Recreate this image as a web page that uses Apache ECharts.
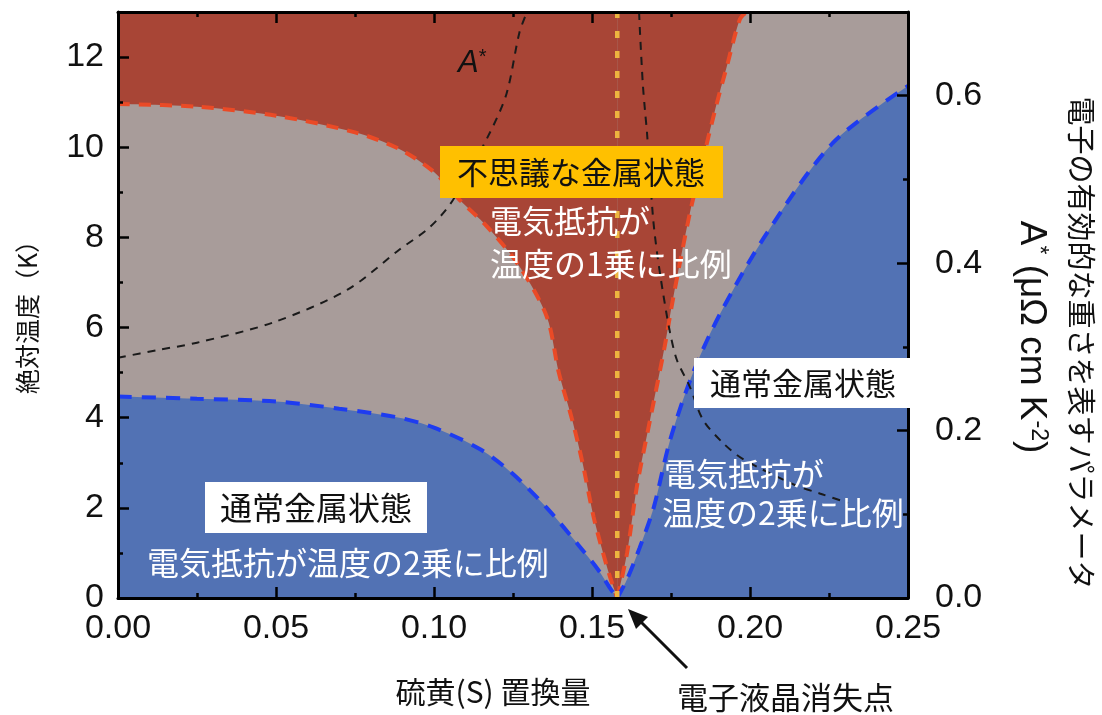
<!DOCTYPE html>
<html lang="ja">
<head>
<meta charset="UTF-8">
<title>電子液晶消失点 相図</title>
<script src="https://cdn.jsdelivr.net/npm/echarts@6/dist/echarts.min.js"></script>
<style>
    body{
        margin: 0;
        padding: 0;
        background: #fff;
    }
</style>
</head>
<body>
<div id="main" style="width: 1102px;height: 715px;"></div>
<script>
    // 相境界 [S置換量, 温度(K)]
    var redLeft = [[0, 10.96], [0.025, 10.9], [0.05, 10.7], [0.075, 10.33], [0.089, 9.96], [0.1, 9.45],
        [0.108, 8.84], [0.1168, 8.24], [0.127, 7.36], [0.1357, 6.24], [0.1395, 5.0], [0.1437, 3.96],
        [0.147, 3.0], [0.1505, 1.8], [0.1535, 1.0], [0.1557, 0.47], [0.158, 0]];
    var redRight = [[0.158, 0], [0.1611, 1.0], [0.1642, 2.47], [0.1684, 3.96], [0.173, 5.58],
        [0.1756, 6.62], [0.181, 8.55], [0.185, 9.7], [0.189, 10.84], [0.1927, 11.8], [0.1968, 12.84], [0.199, 13]];
    var blueLeft = [[0, 4.47], [0.025, 4.42], [0.05, 4.36], [0.07, 4.2], [0.089, 4.0], [0.1, 3.78],
        [0.1146, 3.3], [0.125, 2.75], [0.1357, 2.0], [0.146, 1.15], [0.152, 0.62], [0.1557, 0.22], [0.158, 0]];
    var blueRight = [[0.158, 0], [0.161, 0.4], [0.165, 1.1], [0.1695, 2.0], [0.1747, 3.5], [0.182, 5.0],
        [0.1905, 6.3], [0.2054, 8.1], [0.2263, 10.1], [0.25, 11.36]];
    // A* [S置換量, A*(μΩ cm K^-2)]
    var aStarLeft = [[0, 0.287], [0.0123, 0.296], [0.025, 0.305], [0.049, 0.329], [0.0725, 0.368],
        [0.089, 0.416], [0.0987, 0.443], [0.106, 0.4755], [0.1177, 0.556], [0.123, 0.603],
        [0.127, 0.675], [0.1294, 0.70]];
    var aStarRight = [[0.1649, 0.70], [0.1652, 0.675], [0.1661, 0.613], [0.1668, 0.581], [0.1674, 0.556],
        [0.1693, 0.455], [0.1706, 0.412], [0.1725, 0.364], [0.1747, 0.317], [0.1769, 0.284],
        [0.181, 0.252], [0.1851, 0.213], [0.1915, 0.185], [0.1978, 0.166], [0.2142, 0.135],
        [0.2228, 0.124], [0.231, 0.1135]];
    var qcp = 0.158;   // 電子液晶消失点
    var tMax = 13;

    var jp = '"Noto Sans CJK JP", sans-serif';
    var num = '"Liberation Sans", Arial, sans-serif';

    var chart = echarts.init(document.getElementById('main'));

    var tickCommon = {
        z: 10,
        axisLine: {show: true, onZero: false, lineStyle: {color: '#000', width: 3}},
        axisTick: {show: true, inside: true, length: 11, lineStyle: {color: '#000', width: 2.5}},
        minorTick: {show: true, splitNumber: 2, length: 5, lineStyle: {color: '#000', width: 2.5}},
        splitLine: {show: false},
        minorSplitLine: {show: false}
    };

    function axis(extra) {
        return Object.assign({}, JSON.parse(JSON.stringify(tickCommon)), extra);
    }

    var option = {
        animation: false,
        grid: {
            left: 118, right: 194, top: 12, bottom: 117,
            show: true, backgroundColor: '#A89C9A', borderWidth: 0
        },
        xAxis: [
            axis({
                type: 'value', min: 0, max: 0.25, interval: 0.05, position: 'bottom',
                axisLabel: {
                    fontSize: 34, fontFamily: num, color: '#111', margin: 14,
                    formatter: function (v) { return v.toFixed(2); }
                }
            }),
            axis({
                type: 'value', min: 0, max: 0.25, interval: 0.05, position: 'top',
                axisLabel: {show: false}
            })
        ],
        yAxis: [
            axis({
                type: 'value', min: 0, max: tMax, interval: 2, position: 'left',
                axisLabel: {
                    fontSize: 34, fontFamily: num, color: '#111', margin: 14,
                    formatter: function (v) { return v % 2 === 0 ? v : ''; }
                }
            }),
            axis({
                type: 'value', min: 0, max: 0.7, interval: 0.2, position: 'right',
                axisLabel: {
                    fontSize: 34, fontFamily: num, color: '#111', margin: 27,
                    formatter: function (v) { return v > 0.65 ? '' : v.toFixed(1); }
                }
            })
        ],
        series: [
            {
                name: '不思議な金属 左', type: 'line', data: redLeft, smooth: 0.3,
                symbol: 'none', lineStyle: {color: '#EA4A26', width: 4, type: [12, 9]},
                areaStyle: {color: '#A84536', opacity: 1, origin: 'end'}
            },
            {
                name: '不思議な金属 右', type: 'line', data: redRight, smooth: 0.3,
                symbol: 'none', lineStyle: {color: '#EA4A26', width: 4, type: [12, 9]},
                areaStyle: {color: '#A84536', opacity: 1, origin: 'end'}
            },
            {
                name: '通常金属 左', type: 'line', data: blueLeft, smooth: 0.3,
                symbol: 'none', lineStyle: {color: '#1E3CF0', width: 4, type: [14, 10]},
                areaStyle: {color: '#5272B4', opacity: 1, origin: 'start'}
            },
            {
                name: '通常金属 右', type: 'line', data: blueRight, smooth: 0.3,
                symbol: 'none', lineStyle: {color: '#1E3CF0', width: 4, type: [14, 10]},
                areaStyle: {color: '#5272B4', opacity: 1, origin: 'start'}
            },
            {
                name: 'A* 左', type: 'line', yAxisIndex: 1, data: aStarLeft, smooth: 0.3,
                symbol: 'none', lineStyle: {color: '#1a1a1a', width: 2, type: [8, 7]}
            },
            {
                name: 'A* 右', type: 'line', yAxisIndex: 1, data: aStarRight, smooth: 0.3,
                symbol: 'none', lineStyle: {color: '#1a1a1a', width: 2, type: [8, 7]}
            },
            {
                name: '消失点', type: 'line', data: [[qcp, 0], [qcp, tMax]],
                symbol: 'none', lineStyle: {color: '#EDB53F', width: 4.5, type: [7, 13]}
            }
        ],
        graphic: [
            // 領域ラベル
            {
                type: 'text', x: 458, y: 63, z: 100,
                style: {
                    text: '{a|A}{s|*}', verticalAlign: 'middle',
                    rich: {
                        a: {fontSize: 31, fontStyle: 'italic', fontFamily: num, fill: '#111'},
                        s: {fontSize: 20, fontFamily: num, fill: '#111', verticalAlign: 'top'}
                    }
                }
            },
            {type: 'rect', z: 100, shape: {x: 440, y: 146, width: 283, height: 52}, style: {fill: '#FFC000'}},
            {
                type: 'text', x: 581, y: 172, z: 101,
                style: {text: '不思議な金属状態', fontSize: 31, fontFamily: jp, fill: '#111', align: 'center', verticalAlign: 'middle'}
            },
            {
                type: 'text', x: 490, y: 221, z: 100,
                style: {text: '電気抵抗が', fontSize: 32, fontFamily: jp, fill: '#fff', verticalAlign: 'middle'}
            },
            {
                type: 'text', x: 490, y: 264, z: 100,
                style: {text: '温度の1乗に比例', fontSize: 32, fontFamily: jp, fill: '#fff', verticalAlign: 'middle'}
            },
            {type: 'rect', z: 100, shape: {x: 205, y: 482, width: 222, height: 51}, style: {fill: '#fff'}},
            {
                type: 'text', x: 316, y: 508, z: 101,
                style: {text: '通常金属状態', fontSize: 32, fontFamily: jp, fill: '#111', align: 'center', verticalAlign: 'middle'}
            },
            {
                type: 'text', x: 147, y: 563, z: 100,
                style: {text: '電気抵抗が温度の2乗に比例', fontSize: 32, fontFamily: jp, fill: '#fff', verticalAlign: 'middle'}
            },
            {type: 'rect', z: 100, shape: {x: 694, y: 358, width: 216, height: 50}, style: {fill: '#fff'}},
            {
                type: 'text', x: 803, y: 383, z: 101,
                style: {text: '通常金属状態', fontSize: 31, fontFamily: jp, fill: '#111', align: 'center', verticalAlign: 'middle'}
            },
            {
                type: 'text', x: 664, y: 474, z: 100,
                style: {text: '電気抵抗が', fontSize: 32, fontFamily: jp, fill: '#fff', verticalAlign: 'middle'}
            },
            {
                type: 'text', x: 662, y: 513, z: 100,
                style: {text: '温度の2乗に比例', fontSize: 32, fontFamily: jp, fill: '#fff', verticalAlign: 'middle'}
            },
            // 矢印
            {
                type: 'line', z: 100, shape: {x1: 687, y1: 668, x2: 641, y2: 622},
                style: {stroke: '#111', lineWidth: 3}
            },
            {
                type: 'polygon', z: 100, shape: {points: [[628, 609], [648, 617], [636, 629]]},
                style: {fill: '#111'}
            },
            {
                type: 'text', x: 677, y: 697, z: 100,
                style: {text: '電子液晶消失点', fontSize: 31, fontFamily: jp, fill: '#111', verticalAlign: 'middle'}
            },
            // 軸タイトル
            {
                type: 'text', x: 493, y: 692, z: 100,
                style: {text: '硫黄(S) 置換量', fontSize: 30, fontFamily: jp, fill: '#111', align: 'center', verticalAlign: 'middle'}
            },
            {
                type: 'text', x: 27, y: 311, z: 100, rotation: Math.PI / 2,
                style: {text: '絶対温度（K）', fontSize: 25, fontFamily: jp, fill: '#111', align: 'center', verticalAlign: 'middle'}
            },
            {
                type: 'text', x: 1031, y: 337, z: 100, rotation: -Math.PI / 2,
                style: {
                    text: '{a|A}{s|*}{a| (μΩ cm K}{s|-2}{a|)}', align: 'center', verticalAlign: 'middle',
                    rich: {
                        a: {fontSize: 37, fontFamily: num, fill: '#111'},
                        s: {fontSize: 23, fontFamily: num, fill: '#111', verticalAlign: 'top'}
                    }
                }
            },
            {
                type: 'text', x: 1081, y: 343, z: 100, rotation: -Math.PI / 2,
                style: {text: '電子の有効的な重さを表すパラメータ', fontSize: 29, fontFamily: jp, fill: '#111', align: 'center', verticalAlign: 'middle'}
            }
        ]
    };
    chart.setOption(option);
</script>
</body>
</html>
